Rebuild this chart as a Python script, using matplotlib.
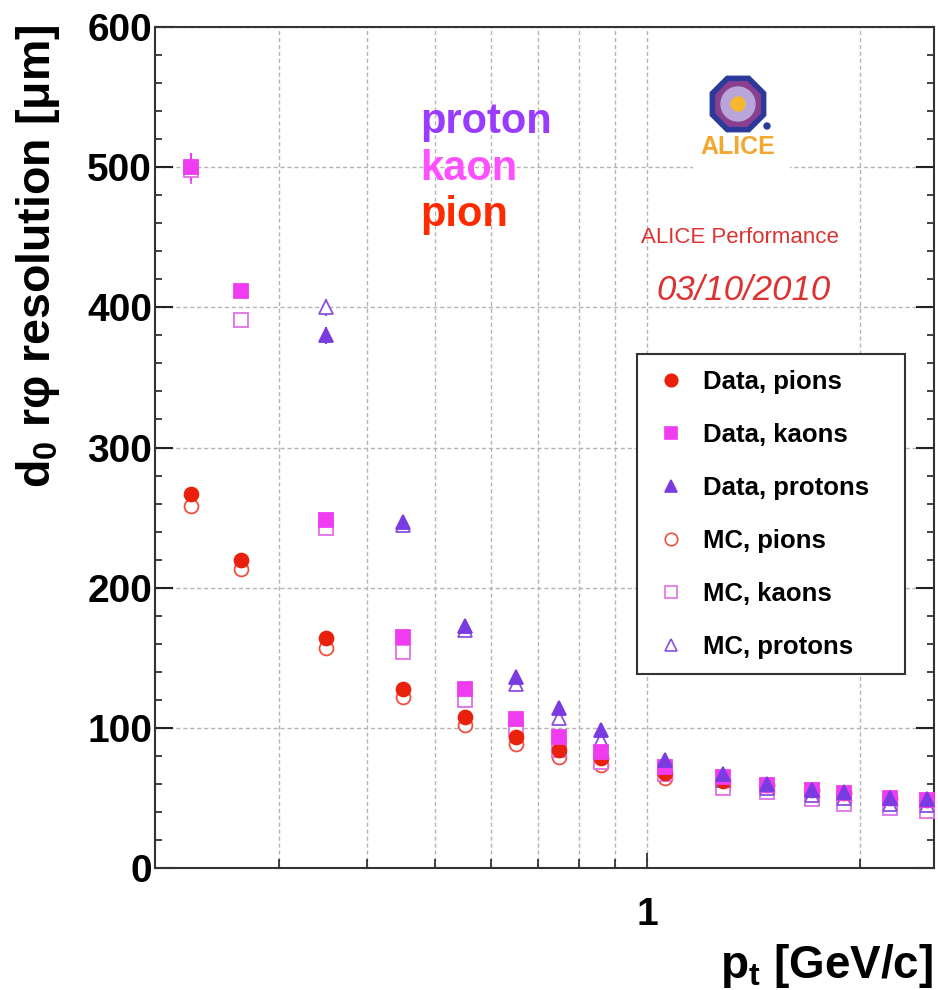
import matplotlib
matplotlib.use("Agg")
import matplotlib.pyplot as plt
from matplotlib.lines import Line2D
from matplotlib.patches import RegularPolygon, Circle
from matplotlib.ticker import FixedLocator, MultipleLocator, NullFormatter, FixedFormatter

plt.rcParams['font.family'] = ['Liberation Sans', 'DejaVu Sans']
plt.rcParams['mathtext.default'] = 'regular'

# pt bin centres [GeV/c]
pt_all = [0.225, 0.265, 0.35, 0.45, 0.55, 0.65, 0.75, 0.86, 1.06, 1.28, 1.48, 1.71, 1.9, 2.21, 2.49]
pt_proton = pt_all[2:]

# d0 r-phi resolution [um]
pion_data = [267, 220, 164, 128, 108, 93.5, 84, 78.5, 68, 62, 59, 56, 53.5, 50, 48.5]
pion_mc = [258, 213, 157, 122, 102, 88.5, 79, 73.5, 64, 58, 55, 51, 48, 45, 43]
kaon_data = [500, 412, 248, 165, 128, 106, 93.5, 83, 72, 65, 59, 56, 53.5, 50, 48.5]
kaon_mc = [498, 391, 242.5, 154, 120, 99, 84, 76, 67, 57, 54, 49, 46, 43, 41]
proton_data = [380, 247, 173, 136, 114, 98.5, 77, 67, 60, 56, 54, 50, 49]
proton_mc = [400, 245, 170, 131, 107, 91, 72, 63, 57, 52, 50, 46, 45]

pion_err = [3, 3, 2, 2, 2, 1.5, 1.5, 1.5, 1, 1, 1, 1, 1, 1, 1]
kaon_err = [10, 4, 3, 2, 2, 1.5, 1.5, 1.5, 1, 1, 1, 1, 1, 1, 1]
proton_err = [6, 4, 3, 2, 2, 1.5, 1, 1, 1, 1, 1, 1, 1]

pion_col, pion_mc_col = '#e8200c', '#f05040'
kaon_col, kaon_mc_col = '#f03cf0', '#e070e8'
proton_col, proton_mc_col = '#7a3be0', '#8a50e0'

fig = plt.figure(figsize=(9.38, 9.9), dpi=100)
ax = fig.add_axes([0.1652, 0.1232, 0.8305, 0.8495])
ax.set_xscale('log')
ax.set_xlim(0.2, 2.55)
ax.set_ylim(0, 600)

ax.xaxis.set_major_locator(FixedLocator([1]))
ax.xaxis.set_major_formatter(FixedFormatter(['1']))
ax.xaxis.set_minor_locator(FixedLocator([0.3, 0.4, 0.5, 0.6, 0.7, 0.8, 0.9, 2]))
ax.xaxis.set_minor_formatter(NullFormatter())
ax.yaxis.set_major_locator(MultipleLocator(100))
ax.yaxis.set_minor_locator(MultipleLocator(20))

ax.grid(True, which='both', axis='x', color='#b4b4b4', linestyle=(0, (3, 2)), linewidth=1)
ax.grid(True, which='major', axis='y', color='#b4b4b4', linestyle=(0, (3, 2)), linewidth=1)
ax.set_axisbelow(True)

ax.tick_params(axis='both', which='both', direction='in', right=True, colors='#222222')
ax.tick_params(axis='y', which='major', length=13, width=1.5, labelsize=28, pad=2)
ax.tick_params(axis='y', which='minor', length=5, width=1.2)
ax.tick_params(axis='x', which='major', length=11, width=1.2, labelsize=28, pad=21)
ax.tick_params(axis='x', which='minor', length=6.5, width=1.2)
for lab in ax.get_xticklabels() + ax.get_yticklabels():
    lab.set_fontweight('bold')
    lab.set_color('black')
for sp in ax.spines.values():
    sp.set_linewidth(1.5)
    sp.set_color('#333333')


def draw(x, y, err, marker, color, filled, ms):
    # open markers get a white face so the error bar does not show through
    ax.errorbar(x, y, yerr=err, fmt='none', ecolor=color, elinewidth=1.5, capsize=0, zorder=2)
    ax.plot(x, y, linestyle='none', marker=marker, ms=ms,
            mfc=color if filled else 'white', mec=color, mew=1.3, zorder=3)
    return Line2D([], [], linestyle='none', marker=marker, ms=ms * 0.9,
                  mfc=color if filled else 'none', mec=color, mew=1.2)


h_mc_pi = draw(pt_all, pion_mc, pion_err, 'o', pion_mc_col, False, 10)
h_mc_k = draw(pt_all, kaon_mc, kaon_err, 's', kaon_mc_col, False, 10)
h_mc_p = draw(pt_proton, proton_mc, proton_err, '^', proton_mc_col, False, 9.5)
h_pi = draw(pt_all, pion_data, pion_err, 'o', pion_col, True, 10)
h_k = draw(pt_all, kaon_data, kaon_err, 's', kaon_col, True, 10)
h_p = draw(pt_proton, proton_data, proton_err, '^', proton_col, True, 9.5)

leg = ax.legend([h_pi, h_k, h_p, h_mc_pi, h_mc_k, h_mc_p],
                ['Data, pions', 'Data, kaons', 'Data, protons', 'MC, pions', 'MC, kaons', 'MC, protons'],
                loc='upper left', bbox_to_anchor=(0.619, 0.232, 0.344, 0.379), mode='expand',
                borderaxespad=0, prop={'weight': 'bold', 'size': 18.5}, labelspacing=1.13,
                borderpad=0.6, handlelength=1.4, handletextpad=0.58, fancybox=False,
                framealpha=1, edgecolor='#333333')
leg.get_frame().set_linewidth(1.5)
leg.set_zorder(5)

# species labels
ax.text(0.340, 0.874, 'proton', transform=ax.transAxes, color='#9a3cff', fontsize=30, fontweight='bold')
ax.text(0.340, 0.818, 'kaon', transform=ax.transAxes, color='#ff50ff', fontsize=30, fontweight='bold')
ax.text(0.340, 0.763, 'pion', transform=ax.transAxes, color='#ff2a00', fontsize=30, fontweight='bold')

ax.text(0.751, 0.750, 'ALICE Performance', transform=ax.transAxes, color='#dc3232',
        fontsize=16, ha='center', va='center')
ax.text(0.756, 0.687, '03/10/2010', transform=ax.transAxes, color='#dc3232',
        fontsize=25, style='italic', ha='center', va='center')

# ALICE logo (white patch hides the grid behind it)
logo = fig.add_axes([693 / 938, 1 - 172 / 990, 97 / 938, 112 / 990])
logo.set_xlim(0, 97)
logo.set_ylim(0, 112)
logo.set_xticks([])
logo.set_yticks([])
for sp in logo.spines.values():
    sp.set_visible(False)
logo.add_patch(RegularPolygon((45, 68), 8, radius=30, orientation=3.14159 / 8, color='#2b3a9a'))
logo.add_patch(RegularPolygon((45, 68), 8, radius=24, orientation=3.14159 / 8, color='#8a3f8f'))
logo.add_patch(Circle((45, 68), 17, color='#b9a6d8'))
logo.add_patch(Circle((45, 68), 7, color='#f5b830'))
logo.add_patch(Circle((74, 46), 3, color='#2b3a9a'))
logo.text(45, 25, 'ALICE', color='#f0a830', fontsize=18, fontweight='bold', ha='center', va='center')

fig.text(0.041, 0.975, 'd$_0$ r\u03c6 resolution [\u03bcm]', rotation=90, ha='center', va='top',
         fontsize=33.5, fontweight='bold')
fig.text(0.995, 0.012, 'p$_t$ [GeV/c]', ha='right', va='baseline', fontsize=33, fontweight='bold')

fig.savefig('out.png', dpi=100, facecolor='white')
